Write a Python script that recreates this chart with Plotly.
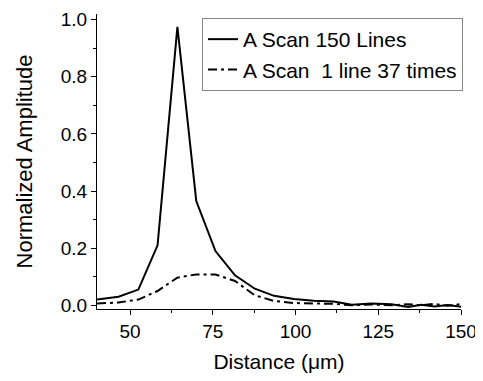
import plotly.graph_objects as go

distance = [40, 46.5, 52.5, 58.3, 64.3, 70, 75.8, 81.7, 87.7, 93.5, 99.5, 105.5,
            111.5, 117, 123, 129, 134, 138, 142, 146, 150]
scan_150_lines = [0.02, 0.03, 0.055, 0.21, 0.975, 0.365, 0.19, 0.105, 0.058, 0.033,
                  0.022, 0.016, 0.013, 0.002, 0.006, 0.004, -0.006, 0.002, -0.004, 0.001, -0.005]
scan_1_line_37 = [0.006, 0.01, 0.02, 0.05, 0.097, 0.108, 0.108, 0.085, 0.035, 0.015,
                  0.008, 0.006, 0.005, 0.0, 0.003, 0.0, 0.004, 0.0, 0.005, -0.002, 0.004]

FONT = "Liberation Sans, Arial, sans-serif"

fig = go.Figure()
fig.add_trace(go.Scatter(x=distance, y=scan_150_lines, mode="lines",
                         name="A Scan 150 Lines",
                         line=dict(color="black", width=2)))
fig.add_trace(go.Scatter(x=distance, y=scan_1_line_37, mode="lines",
                         name="A Scan  1 line 37 times",
                         line=dict(color="black", width=2, dash="9px,4px,3px,4px")))

# page body has an 8px margin; compensate so the plot lands where the reference has it
W, H = 475, 373
L, R, T, B = 89, 22, 6, 72
PW, PH = W - L - R, H - T - B
fig.update_layout(
    width=W, height=H,
    margin=dict(l=L, r=R, t=T, b=B, autoexpand=False),
    plot_bgcolor="white", paper_bgcolor="white",
    font=dict(family=FONT, size=19, color="black"),
    legend=dict(x=(202 - 8 - L) / PW, y=1 - (18 - 8 - T) / PH, xanchor="left", yanchor="top",
                bordercolor="#888", borderwidth=1, bgcolor="white",
                font=dict(size=21), itemwidth=30, tracegroupgap=0),
    xaxis=dict(range=[40, 150], tickvals=[50, 75, 100, 125, 150],
               showline=True, linecolor="black", linewidth=1,
               ticks="outside", ticklen=5, tickwidth=1.3, tickcolor="black",
               minor=dict(tickvals=[62.5, 87.5, 112.5, 137.5], ticks="outside",
                          ticklen=3, tickwidth=1.3, tickcolor="black"),
               showgrid=False, zeroline=False,
               title=dict(text="Distance (\u03bcm)", font=dict(size=21), standoff=13)),
    yaxis=dict(range=[-0.013, 1.02], tickvals=[0, 0.2, 0.4, 0.6, 0.8, 1.0],
               tickformat=".1f",
               showline=True, linecolor="black", linewidth=1,
               ticks="outside", ticklen=5, tickwidth=1.3, tickcolor="black",
               minor=dict(tickvals=[0.1, 0.3, 0.5, 0.7, 0.9], ticks="outside",
                          ticklen=3, tickwidth=1.3, tickcolor="black"),
               showgrid=False, zeroline=False,
               title=dict(text="Normalized Amplitude", font=dict(size=22), standoff=22)),
)

fig.write_html("out.html")
